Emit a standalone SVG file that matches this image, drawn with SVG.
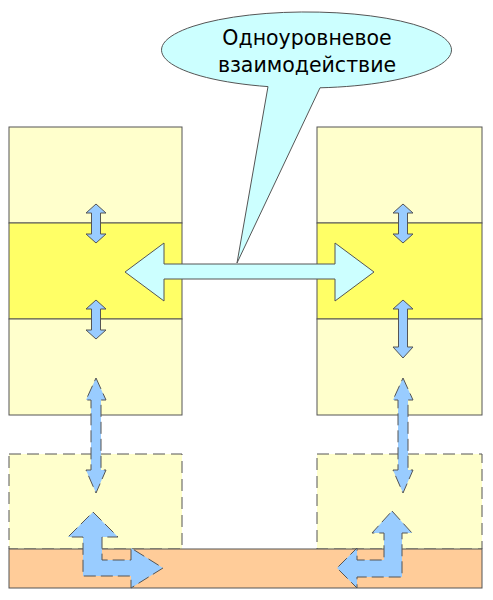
<svg xmlns="http://www.w3.org/2000/svg" width="493" height="600" viewBox="0 0 493 600">
<style>
.l{fill:#FFFFCC;stroke:#555;stroke-width:1}
.y{fill:#FFFF66;stroke:#555;stroke-width:1}
.d{fill:#FFFFCC;stroke:#555;stroke-width:1;stroke-dasharray:12 6}
.o{fill:#FFCC99;stroke:#555;stroke-width:1}
.a{fill:#99CCFF;stroke:#555;stroke-width:1}
.ad{fill:#99CCFF;stroke:#555;stroke-width:1;stroke-dasharray:12 5}
.c{fill:#CCFFFF;stroke:#555;stroke-width:1}
.t{font-family:"DejaVu Sans",Verdana,sans-serif;font-size:20.5px;fill:#000;text-anchor:middle}
</style>
<rect width="493" height="600" fill="#fff"/>
<g id="left-stack">
<rect class="l" x="9" y="127" width="173" height="96"/>
<rect class="y" x="9" y="223" width="173" height="96"/>
<rect class="l" x="9" y="319" width="173" height="96"/>
</g>
<g id="right-stack">
<rect class="l" x="317" y="127" width="165" height="96"/>
<rect class="y" x="317" y="223" width="165" height="96"/>
<rect class="l" x="317" y="319" width="165" height="96"/>
</g>
<g id="left-dashed"><rect class="d" x="9" y="454" width="173" height="95"/></g>
<g id="right-dashed"><rect class="d" x="317" y="454" width="165" height="95"/></g>
<g id="base"><rect class="o" x="9" y="549" width="473" height="39"/></g>
<g id="connectors">
<path class="a" d="M96,204 L106,213 L100.5,213 L100.5,234 L106,234 L96,243 L86,234 L91.5,234 L91.5,213 L86,213 Z"/>
<path class="a" d="M96,300 L106,309 L100.5,309 L100.5,330 L106,330 L96,339 L86,330 L91.5,330 L91.5,309 L86,309 Z"/>
<path class="ad" d="M96,378 L106,400 L101,400 L101,470 L106,470 L96,493 L86,470 L91,470 L91,400 L86,400 Z"/>
<path class="a" d="M403,204 L413,213 L407.5,213 L407.5,234 L413,234 L403,243 L393,234 L398.5,234 L398.5,213 L393,213 Z"/>
<path class="a" d="M403,300 L413,309 L407.5,309 L407.5,347 L413,347 L403,358 L393,347 L398.5,347 L398.5,309 L393,309 Z"/>
<path class="ad" d="M403,378 L413,400 L408,400 L408,470 L413,470 L403,493 L393,470 L398,470 L398,400 L393,400 Z"/>
<path class="ad" d="M93,512 L118,537 L102,537 L102,560 L131,560 L131,548 L163,568 L131,588 L131,576 L83,576 L83,537 L68,537 Z"/>
<path class="ad" d="M392,511 L412,533 L402,533 L402,577 L357,577 L357,588 L337,568 L357,548 L357,560 L384,560 L384,533 L372,533 Z"/>
<path class="c" d="M125,272 L164,243 L164,264 L335,264 L335,243 L374,272 L335,301 L335,279 L164,279 L164,301 Z"/>
</g>
<g id="callout">
<path class="c" d="M268,86.6 A145 38 0 1 1 320,87.8 L237,263 Z"/>
<text class="t" x="307" y="45">Одноуровневое</text>
<text class="t" x="307" y="72">взаимодействие</text>
</g>
</svg>
